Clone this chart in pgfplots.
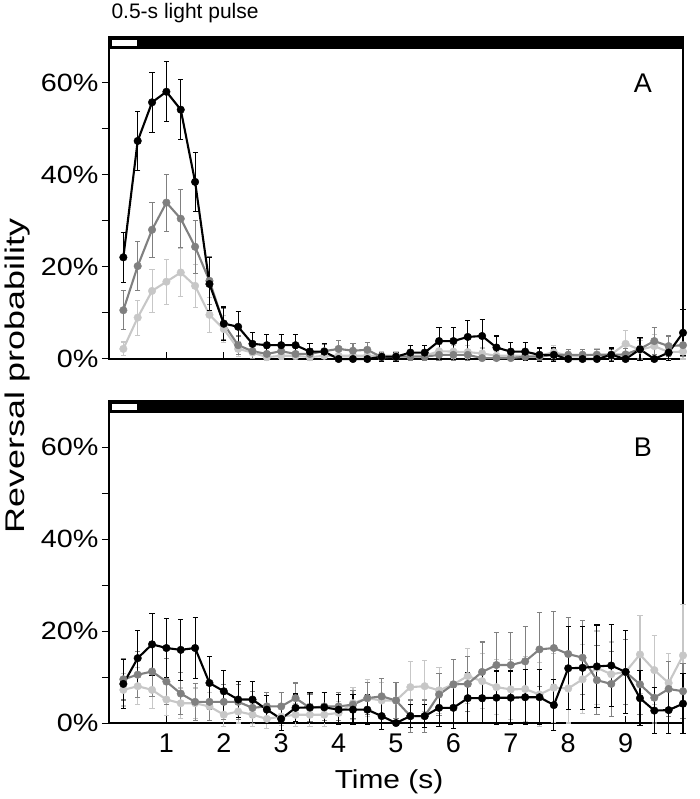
\documentclass[border=0pt]{standalone}
\usepackage{fontspec}
\setmainfont{Liberation Sans}
\usepackage{graphicx}
\usepackage{pgfplots}
\pgfplotsset{compat=1.18}

\definecolor{midgray}{gray}{0.5}
\definecolor{ltgray}{gray}{0.78}

\pgfplotsset{
  panel/.style={
    scale only axis, width=574pt, height=322pt,
    xmin=0, xmax=10, ymin=0, ymax=70,
    xtick={1,...,9}, ytick={0,20,40,60}, minor ytick={10,30,50},
    tick pos=left, tick align=outside,
    major tick length=7pt, minor tick length=7pt,
    xtick style={yshift=7pt},
    every tick/.style={black, line width=1pt},
    axis line style={line width=1.3pt},
    /pgf/number format/assume math mode=true,
    yticklabel={\scalebox{1.15}[1]{\pgfmathprintnumber{\tick}\%}},
    y tick label style={font=\fontsize{25}{25}\selectfont},
    x tick label style={font=\fontsize{27}{27}\selectfont},
    clip=false,
  },
  ser/.style={color=#1, line width=2.1pt, mark=*, mark size=3.8pt,
    mark options={solid, fill=#1, draw=#1, line width=0.4pt}},
  eb/.style={error bars/.cd, y dir=both, y explicit,
    error bar style={line width=1.1pt},
    error mark options={line width=1.1pt, mark size=2.6pt, rotate=90}},
}

\begin{document}
\begin{tikzpicture}
% ---------- panel A ----------
\begin{axis}[panel, name=A, at={(0,0)}, anchor=south west, xticklabels={}]
  \fill[black] (axis cs:0,67.4) rectangle (axis cs:10,70);
  \fill[white] (axis cs:0.05,68.0) rectangle (axis cs:0.48,69.4);
  \addplot[ser=ltgray, eb] table[x=t, y=v, y error=e] {
t v e
0.25 2.2 1.5
0.5 9.0 3.8
0.75 14.8 4.7
1.0 16.8 4.9
1.25 18.8 5.2
1.5 15.9 4.7
1.75 9.6 3.8
2.0 6.5 3.0
2.25 2.2 1.6
2.5 1.4 1.2
2.75 0.4 0.8
3.0 0.7 0.9
3.25 0.7 0.9
3.5 0.4 0.8
3.75 0.7 0.9
4.0 0.7 0.9
4.25 0.7 0.9
4.5 0.7 0.9
4.75 0.7 0.9
5.0 0.7 0.9
5.25 0.7 0.9
5.5 0.7 0.9
5.75 1.7 1.4
6.0 1.6 1.4
6.25 1.5 1.4
6.5 1.2 1.2
6.75 0.7 1.0
7.0 0.7 1.0
7.25 0.7 1.0
7.5 0.7 1.0
7.75 1.5 1.4
8.0 0.7 1.0
8.25 0.7 1.0
8.5 1.0 1.2
8.75 1.0 1.2
9.0 3.3 2.8
9.25 2.0 2.0
9.5 2.8 2.6
9.75 1.5 1.6
10 1.6 1.6
};
  \addplot[ser=midgray, eb] table[x=t, y=v, y error=e] {
t v e
0.25 10.6 4.2
0.5 20.2 5.3
0.75 28.1 6.0
1.0 34.0 6.2
1.25 30.5 6.3
1.5 24.4 5.8
1.75 17.0 5.2
2.0 7.6 3.4
2.25 3.0 2.0
2.5 1.7 1.5
2.75 1.1 1.2
3.0 1.7 1.5
3.25 1.1 1.2
3.5 1.1 1.2
3.75 1.7 1.5
4.0 2.2 1.8
4.25 1.8 1.6
4.5 2.0 1.6
4.75 0.4 0.8
5.0 0.5 0.8
5.25 0.5 0.8
5.5 0.5 0.8
5.75 0.9 1.2
6.0 0.9 1.2
6.25 0.9 1.2
6.5 0.2 0.6
6.75 0.2 0.6
7.0 0.2 0.6
7.25 0.5 0.8
7.5 0.5 0.8
7.75 0.9 1.2
8.0 0.9 1.2
8.25 0.9 1.2
8.5 0.9 1.2
8.75 0.9 1.2
9.0 1.0 1.3
9.25 2.2 2.2
9.5 3.9 3.0
9.75 2.8 2.2
10 3.0 2.5
};
  \addplot[ser=black, eb] table[x=t, y=v, y error=e] {
t v e
0.25 22.1 5.4
0.5 47.4 6.5
0.75 55.8 6.5
1.0 58.1 6.5
1.25 54.2 6.5
1.5 38.5 6.4
1.75 16.3 5.8
2.0 7.7 3.6
2.25 7.0 3.4
2.5 3.3 2.4
2.75 3.0 2.4
3.0 3.0 2.4
3.25 3.0 2.4
3.5 1.6 1.8
3.75 1.6 1.8
4.0 0 0
4.25 0 0
4.5 0 0
4.75 0.5 1.0
5.0 0.5 1.0
5.25 1.4 1.5
5.5 1.4 1.5
5.75 3.9 3.0
6.0 3.9 3.0
6.25 4.8 3.5
6.5 5.0 3.5
6.75 2.5 2.5
7.0 1.6 2.0
7.25 1.6 2.0
7.5 0.9 1.5
7.75 0.9 1.5
8.0 0 0
8.25 0 0
8.5 0 0
8.75 0.9 1.5
9.0 0 0
9.25 2.1 2.5
9.5 0 0
9.75 1.4 1.8
10 5.7 5.0
};
  \node[font=\fontsize{27}{27}\selectfont] at (axis cs:9.3,60) {A};
\end{axis}

% ---------- panel B ----------
\begin{axis}[panel, name=B, at={(0,-364pt)}, anchor=south west]
  \fill[black] (axis cs:0,67.4) rectangle (axis cs:10,70);
  \fill[white] (axis cs:0.05,68.0) rectangle (axis cs:0.48,69.4);
  \addplot[ser=ltgray, eb] table[x=t, y=v, y error=e] {
t v e
0.25 7.2 3.5
0.5 8.0 4.0
0.75 7.2 4.0
1.0 5.1 3.5
1.25 4.3 3.3
1.5 4.3 3.3
1.75 3.6 3.0
2.0 1.8 2.5
2.25 2.5 2.5
2.5 1.8 2.5
2.75 0.9 2.0
3.0 1.4 2.0
3.25 1.8 2.5
3.5 1.8 2.5
3.75 1.8 2.5
4.0 2.2 2.5
4.25 4.3 3.5
4.5 5.4 4.0
4.75 4.9 4.0
5.0 4.9 4.0
5.25 7.8 5.5
5.5 8.0 5.5
5.75 7.1 5.0
6.0 8.4 5.5
6.25 10.2 6.0
6.5 9.1 6.0
6.75 7.8 6.0
7.0 7.3 6.5
7.25 7.4 7.0
7.5 6.2 7.0
7.75 7.7 7.5
8.0 7.5 7.5
8.25 9.5 7.5
8.5 12.0 8.0
8.75 10.6 7.0
9.0 11.1 7.0
9.25 14.9 8.5
9.5 11.5 7.5
9.75 8.7 6.5
10 14.7 11.0
};
  \addplot[ser=midgray, eb] table[x=t, y=v, y error=e] {
t v e
0.25 9.5 4.5
0.5 10.5 5.0
0.75 11.2 5.5
1.0 9.0 5.0
1.25 6.4 4.5
1.5 4.6 4.0
1.75 4.6 4.0
2.0 4.6 3.8
2.25 4.6 3.8
2.5 3.3 3.5
2.75 3.6 3.0
3.0 3.6 3.0
3.25 5.4 3.3
3.5 3.3 3.0
3.75 3.6 3.0
4.0 3.6 3.0
4.25 4.0 3.0
4.5 5.4 3.5
4.75 5.8 3.8
5.0 4.9 4.0
5.25 1.5 3.5
5.5 1.5 3.5
5.75 6.2 4.5
6.0 8.4 5.5
6.25 8.5 6.0
6.5 11.1 6.5
6.75 12.6 7.0
7.0 12.6 7.0
7.25 13.4 7.5
7.5 16.0 8.0
7.75 16.3 8.0
8.0 15.0 8.0
8.25 14.2 8.0
8.5 9.3 7.5
8.75 8.5 7.0
9.0 11.1 7.0
9.25 8.4 6.5
9.5 5.5 5.5
9.75 7.4 6.0
10 6.9 6.0
};
  \addplot[ser=black, eb] table[x=t, y=v, y error=e] {
t v e
0.25 8.5 5.4
0.5 14.1 6.0
0.75 17.1 6.8
1.0 16.3 6.5
1.25 15.9 6.6
1.5 16.3 6.6
1.75 8.7 5.7
2.0 6.9 4.6
2.25 5.1 4.0
2.5 5.1 4.0
2.75 2.9 3.0
3.0 0.9 2.5
3.25 3.3 3.0
3.5 3.4 3.3
3.75 3.4 3.3
4.0 2.9 3.3
4.25 2.9 3.3
4.5 2.9 3.3
4.75 1.5 3.0
5.0 0 0
5.25 1.5 2.5
5.5 1.5 2.5
5.75 3.3 4.0
6.0 3.3 4.5
6.25 5.4 5.5
6.5 5.4 5.5
6.75 5.5 5.8
7.0 5.5 5.8
7.25 5.6 6.0
7.5 5.6 6.0
7.75 3.9 5.5
8.0 11.9 9.0
8.25 12.0 9.0
8.5 12.3 9.0
8.75 12.5 9.0
9.0 11.1 9.0
9.25 5.4 6.0
9.5 2.7 5.0
9.75 2.8 5.0
10 4.2 6.5
};
  \node[font=\fontsize{27}{27}\selectfont] at (axis cs:9.3,60) {B};
\end{axis}

% labels
\node[anchor=base west, font=\fontsize{21}{21}\selectfont] at (-1pt,340pt) {0.5-s light pulse};
\node[rotate=90, font=\fontsize{27}{27}\selectfont] at (-91pt,-17pt) {\scalebox{1.33}[1]{Reversal probability}};
\node[anchor=base, font=\fontsize{26}{26}\selectfont] at (280pt,-429pt) {\scalebox{1.15}[1]{Time (s)}};

\pgfresetboundingbox
\path[use as bounding box] (-109pt,359pt) rectangle (591pt,-440pt);
\end{tikzpicture}
\end{document}
